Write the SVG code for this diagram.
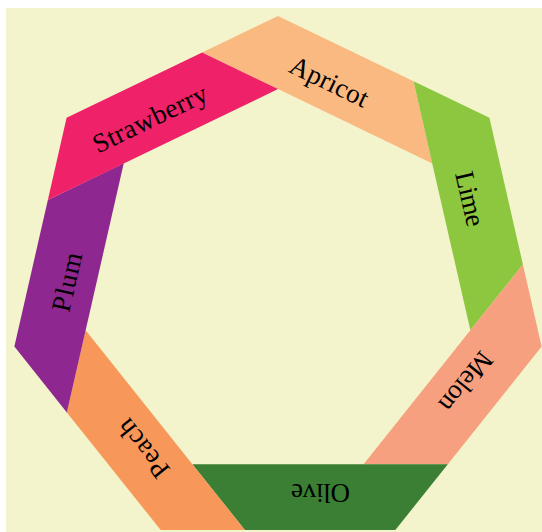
<svg xmlns="http://www.w3.org/2000/svg" width="542" height="532" viewBox="0 0 542 532">
<style>
  .lbl { font-family: "Liberation Serif", "Times New Roman", serif; font-size: 27px; fill: #000; text-anchor: middle; }
</style>
<defs>
  <polygon id="band" points="202.15,52.53 278,16 413.55,81.27 432.3,163.4 278,89.1"/>
</defs>
<rect x="6" y="8" width="545" height="530" fill="#F3F4CC"/>
<g id="apricot">
  <use href="#band" fill="#FBB982"/>
  <text class="lbl" x="235.4" y="88.7" textLength="84" lengthAdjust="spacing" transform="rotate(25.7143 278 286.4)">Apricot</text>
</g>
<g id="lime" transform="rotate(51.4286 278 286.4)">
  <use href="#band" fill="#8DC63F"/>
  <text class="lbl" x="235.4" y="88.7" textLength="55.5" lengthAdjust="spacing" transform="rotate(25.7143 278 286.4)">Lime</text>
</g>
<g id="melon" transform="rotate(102.8571 278 286.4)">
  <use href="#band" fill="#F6A080"/>
  <text class="lbl" x="235.4" y="88.7" textLength="69" lengthAdjust="spacing" transform="rotate(25.7143 278 286.4)">Melon</text>
</g>
<g id="olive" transform="rotate(154.2857 278 286.4)">
  <use href="#band" fill="#3A7F33"/>
  <text class="lbl" x="235.4" y="88.7" textLength="59" lengthAdjust="spacing" transform="rotate(25.7143 278 286.4)">Olive</text>
</g>
<g id="peach" transform="rotate(205.7143 278 286.4)">
  <use href="#band" fill="#F7975A"/>
  <text class="lbl" x="235.4" y="88.7" textLength="67" lengthAdjust="spacing" transform="rotate(25.7143 278 286.4)">Peach</text>
</g>
<g id="plum" transform="rotate(257.1429 278 286.4)">
  <use href="#band" fill="#8E278F"/>
  <text class="lbl" x="235.4" y="88.7" textLength="60" lengthAdjust="spacing" transform="rotate(25.7143 278 286.4)">Plum</text>
</g>
<g id="strawberry" transform="rotate(308.5714 278 286.4)">
  <use href="#band" fill="#EE2169"/>
  <text class="lbl" x="235.4" y="88.7" textLength="124" lengthAdjust="spacing" transform="rotate(25.7143 278 286.4)">Strawberry</text>
</g>
<g id="connectors"/>
</svg>
